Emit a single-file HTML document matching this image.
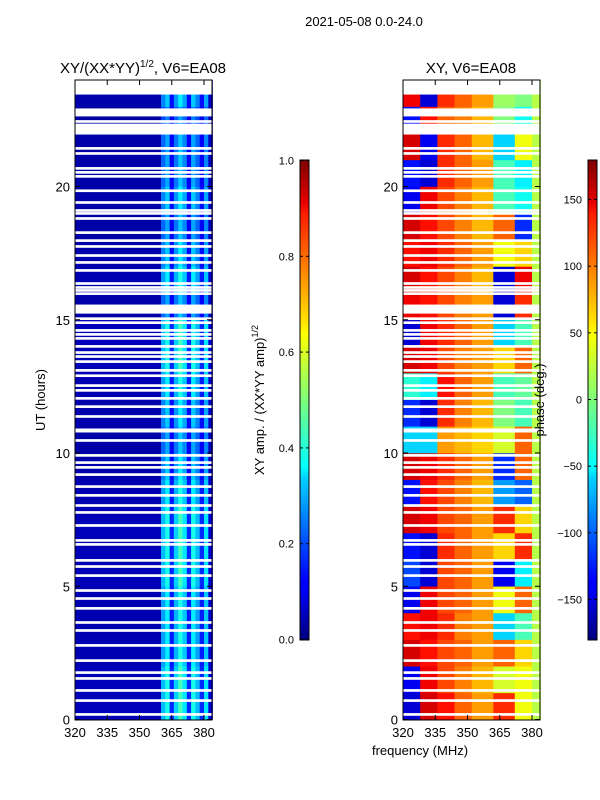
<!DOCTYPE html>
<html><head><meta charset="utf-8"><style>
body{margin:0;background:#fff;width:600px;height:800px;overflow:hidden;font-family:"Liberation Sans",sans-serif}
svg{display:block}
text{font-family:"Liberation Sans",sans-serif;fill:#000}
</style></head><body>
<svg id="fig" width="600" height="800" xmlns="http://www.w3.org/2000/svg">
<defs>
<linearGradient id="jet" x1="0" y1="1" x2="0" y2="0">
<stop offset="0" stop-color="#00007f"/><stop offset="0.11" stop-color="#0000ff"/><stop offset="0.125" stop-color="#0000ff"/>
<stop offset="0.34" stop-color="#00d4ff"/><stop offset="0.36" stop-color="#0ff"/><stop offset="0.5" stop-color="#7dff7a"/>
<stop offset="0.64" stop-color="#ff0"/><stop offset="0.66" stop-color="#ffe600"/><stop offset="0.89" stop-color="#ff1a00"/>
<stop offset="0.91" stop-color="#e80000"/><stop offset="1" stop-color="#7f0000"/>
</linearGradient>
</defs>
<text x="364" y="26" font-size="13" text-anchor="middle">2021-05-08 0.0-24.0</text>
<text x="143" y="73" font-size="15" text-anchor="middle">XY/(XX*YY)<tspan dy="-6" font-size="10">1/2</tspan><tspan dy="6">, V6=EA08</tspan></text>
<text x="471" y="73" font-size="15" text-anchor="middle">XY, V6=EA08</text>
<g id="left"></g>
<g id="right"></g>
<g id="axes"></g>
<text transform="translate(45,400) rotate(-90)" font-size="13" text-anchor="middle">UT (hours)</text>
<text x="420" y="755" font-size="13" text-anchor="middle">frequency (MHz)</text>
<text transform="translate(264,400) rotate(-90)" font-size="13" text-anchor="middle">XY amp. / (XX*YY amp)<tspan dy="-6" font-size="9">1/2</tspan></text>
<text transform="translate(544,400) rotate(-90)" font-size="13" text-anchor="middle">phase (deg.)</text>
</svg>
<script>
// ---- data ----
const ampEdges=[320,360,362,364,366,368,370,372,374,376,378,380,382,384];
const ampProfile=[0.05,0.28,0.36,0.15,0.3,0.4,0.32,0.15,0.36,0.28,0.15,0.32,0.08];
const ampHour=[1.1,1.1,1.0,1.0,1.0,1.1,1.1,1.1,1.0,0.9,0.8,0.9,1.0,1.1,1.1,0.8,1.0,0.9,0.8,0.9,0.8,0.8,0.7,0.9];
const phaseEdges=[320,328,336,344,352,362,372,380,384];
const phaseRows=[
[-150,150,130,100,80,120,40,20],
[-140,140,110,90,70,30,40,20],
[150,130,110,100,80,100,60,20],
[130,140,120,90,80,-60,-20,20],
[-140,140,110,100,80,40,100,20],
[-110,-150,110,100,80,-140,-50,20],
[-130,-150,120,100,80,60,120,20],
[150,140,110,100,80,120,60,20],
[-130,130,110,90,70,-80,-100,20],
[150,140,120,100,80,-120,100,20],
[-60,-60,80,70,60,30,100,20],
[-120,-150,120,90,70,0,-20,20],
[-30,-50,130,100,80,-20,-10,20],
[150,140,110,90,80,60,100,20],
[-150,140,120,100,80,-60,-20,20],
[140,130,110,90,80,-150,120,20],
[150,130,110,90,70,-150,140,20],
[130,140,120,100,80,40,60,20],
[150,130,110,90,70,100,-120,20],
[-140,140,110,90,70,-20,-40,20],
[-130,-150,120,100,80,-20,-50,20],
[150,-140,120,100,70,-60,40,20],
[-130,130,100,90,70,0,-40,20],
[140,-150,120,100,80,10,0,20]];
const gapsWide=[[23.45,24],[22.63,22.93],[21.95,22.36],[15.23,15.57],[10.77,10.92]];
const gapsThin=[22.44,21.43,21.24,20.68,20.53,20.38,19.84,19.4,19.1,18.99,18.8,18.27,17.97,17.75,17.41,17.15,16.85,16.36,16.21,16.1,15.98,15.04,14.89,14.6,14.45,14.3,14.0,13.77,13.62,13.43,13.1,12.9,12.53,12.35,12.05,11.74,11.37,10.47,9.91,9.64,9.46,9.19,8.74,8.41,8.03,7.77,7.28,6.72,6.57,5.97,5.74,5.4,4.84,4.54,4.17,3.64,3.34,2.78,2.21,1.76,1.54,1.09,0.71,0.19];
const xTicks=[320,335,350,365,380];
const yTicks=[0,5,10,15,20];
const ampTicks=[0.0,0.2,0.4,0.6,0.8,1.0];
const phaseTicks=[-150,-100,-50,0,50,100,150];
// ---- scales ----
const NS='http://www.w3.org/2000/svg';
const Y0=719.5,PXH=26.65;
const yS=h=>Y0-h*PXH;
const xL=f=>75+(f-320)*2.15;
const xR=f=>403+(f-320)*2.15;
function jet(v){v=Math.max(0,Math.min(1,v));
 const r=Math.min(1,Math.max(0,1.5-Math.abs(4*v-3))),g=Math.min(1,Math.max(0,1.5-Math.abs(4*v-2))),b=Math.min(1,Math.max(0,1.5-Math.abs(4*v-1)));
 return `rgb(${Math.round(r*255)},${Math.round(g*255)},${Math.round(b*255)})`;}
function mk(tag,attrs,parent){const e=document.createElementNS(NS,tag);for(const k in attrs)e.setAttribute(k,attrs[k]);parent.appendChild(e);return e;}
const L=document.getElementById('left'),R=document.getElementById('right'),A=document.getElementById('axes');
for(let h=0;h<24;h++){
 for(let i=0;i<ampProfile.length;i++){
  const e=mk('rect',{x:xL(ampEdges[i]),y:yS(h+1),width:xL(ampEdges[i+1])-xL(ampEdges[i])+0.3,height:PXH+0.3,fill:jet(ampProfile[i]*ampHour[h])},L);
  
  
 }
 for(let i=0;i<phaseRows[h].length;i++){
  const e=mk('rect',{x:xR(phaseEdges[i]),y:yS(h+1),width:xR(phaseEdges[i+1])-xR(phaseEdges[i])+0.3,height:PXH+0.3,fill:jet((phaseRows[h][i]+180)/360)},R);
  
  
 }
}
function gap(h0,h1){
 [[L,xL],[R,xR]].forEach(([g,xs])=>{
  const e=mk('rect',{x:xs(320),y:yS(h1),width:xs(384)-xs(320),height:yS(h0)-yS(h1),fill:'#fff'},g);
  
  
 });
}
gapsWide.forEach(g=>gap(g[0],g[1]));
gapsThin.forEach(h=>gap(h-0.05,h+0.05));
// axes frames and ticks
[[75,xL],[403,xR]].forEach(([x0,xs],pi)=>{
 const fr=mk('rect',{x:x0,y:80,width:137,height:640,fill:'none',stroke:'#000','stroke-width':1},A);
 
 
 xTicks.forEach(t=>{
  const x=xs(t);
  mk('line',{x1:x,x2:x,y1:720,y2:715,stroke:'#000'},A);mk('line',{x1:x,x2:x,y1:80,y2:85,stroke:'#000'},A);
  const tx=mk('text',{x:x,y:737,'font-size':13,'text-anchor':'middle'},A);tx.textContent=t;
  
  
 });
 yTicks.forEach(t=>{
  const y=yS(t);
  mk('line',{x1:x0,x2:x0+5,y1:y,y2:y,stroke:'#000'},A);mk('line',{x1:x0+137,x2:x0+132,y1:y,y2:y,stroke:'#000'},A);
  const tx=mk('text',{x:x0-5,y:y+5,'font-size':13,'text-anchor':'end'},A);tx.textContent=t;
  
  
 });
});
// colorbars
[[300,ampTicks,v=>639.5-v*479],[588,phaseTicks,v=>399.5-v*4/3]].forEach(([cx,ticks,ys],ci)=>{
 const r=mk('rect',{x:cx,y:160,width:9,height:480,fill:'url(#jet)',stroke:'#000','stroke-width':1},A);
 
 
 ticks.forEach(t=>{
  const y=ys(t);
  mk('line',{x1:cx,x2:cx+3,y1:y,y2:y,stroke:'#000'},A);mk('line',{x1:cx+9,x2:cx+6,y1:y,y2:y,stroke:'#000'},A);
  const tx=mk('text',{x:cx-6,y:y+4,'font-size':11,'text-anchor':'end'},A);
  tx.textContent=ci?(t<0?'\u2212'+(-t):t):t.toFixed(1);
  
  
 });
});
</script>
</body></html>
